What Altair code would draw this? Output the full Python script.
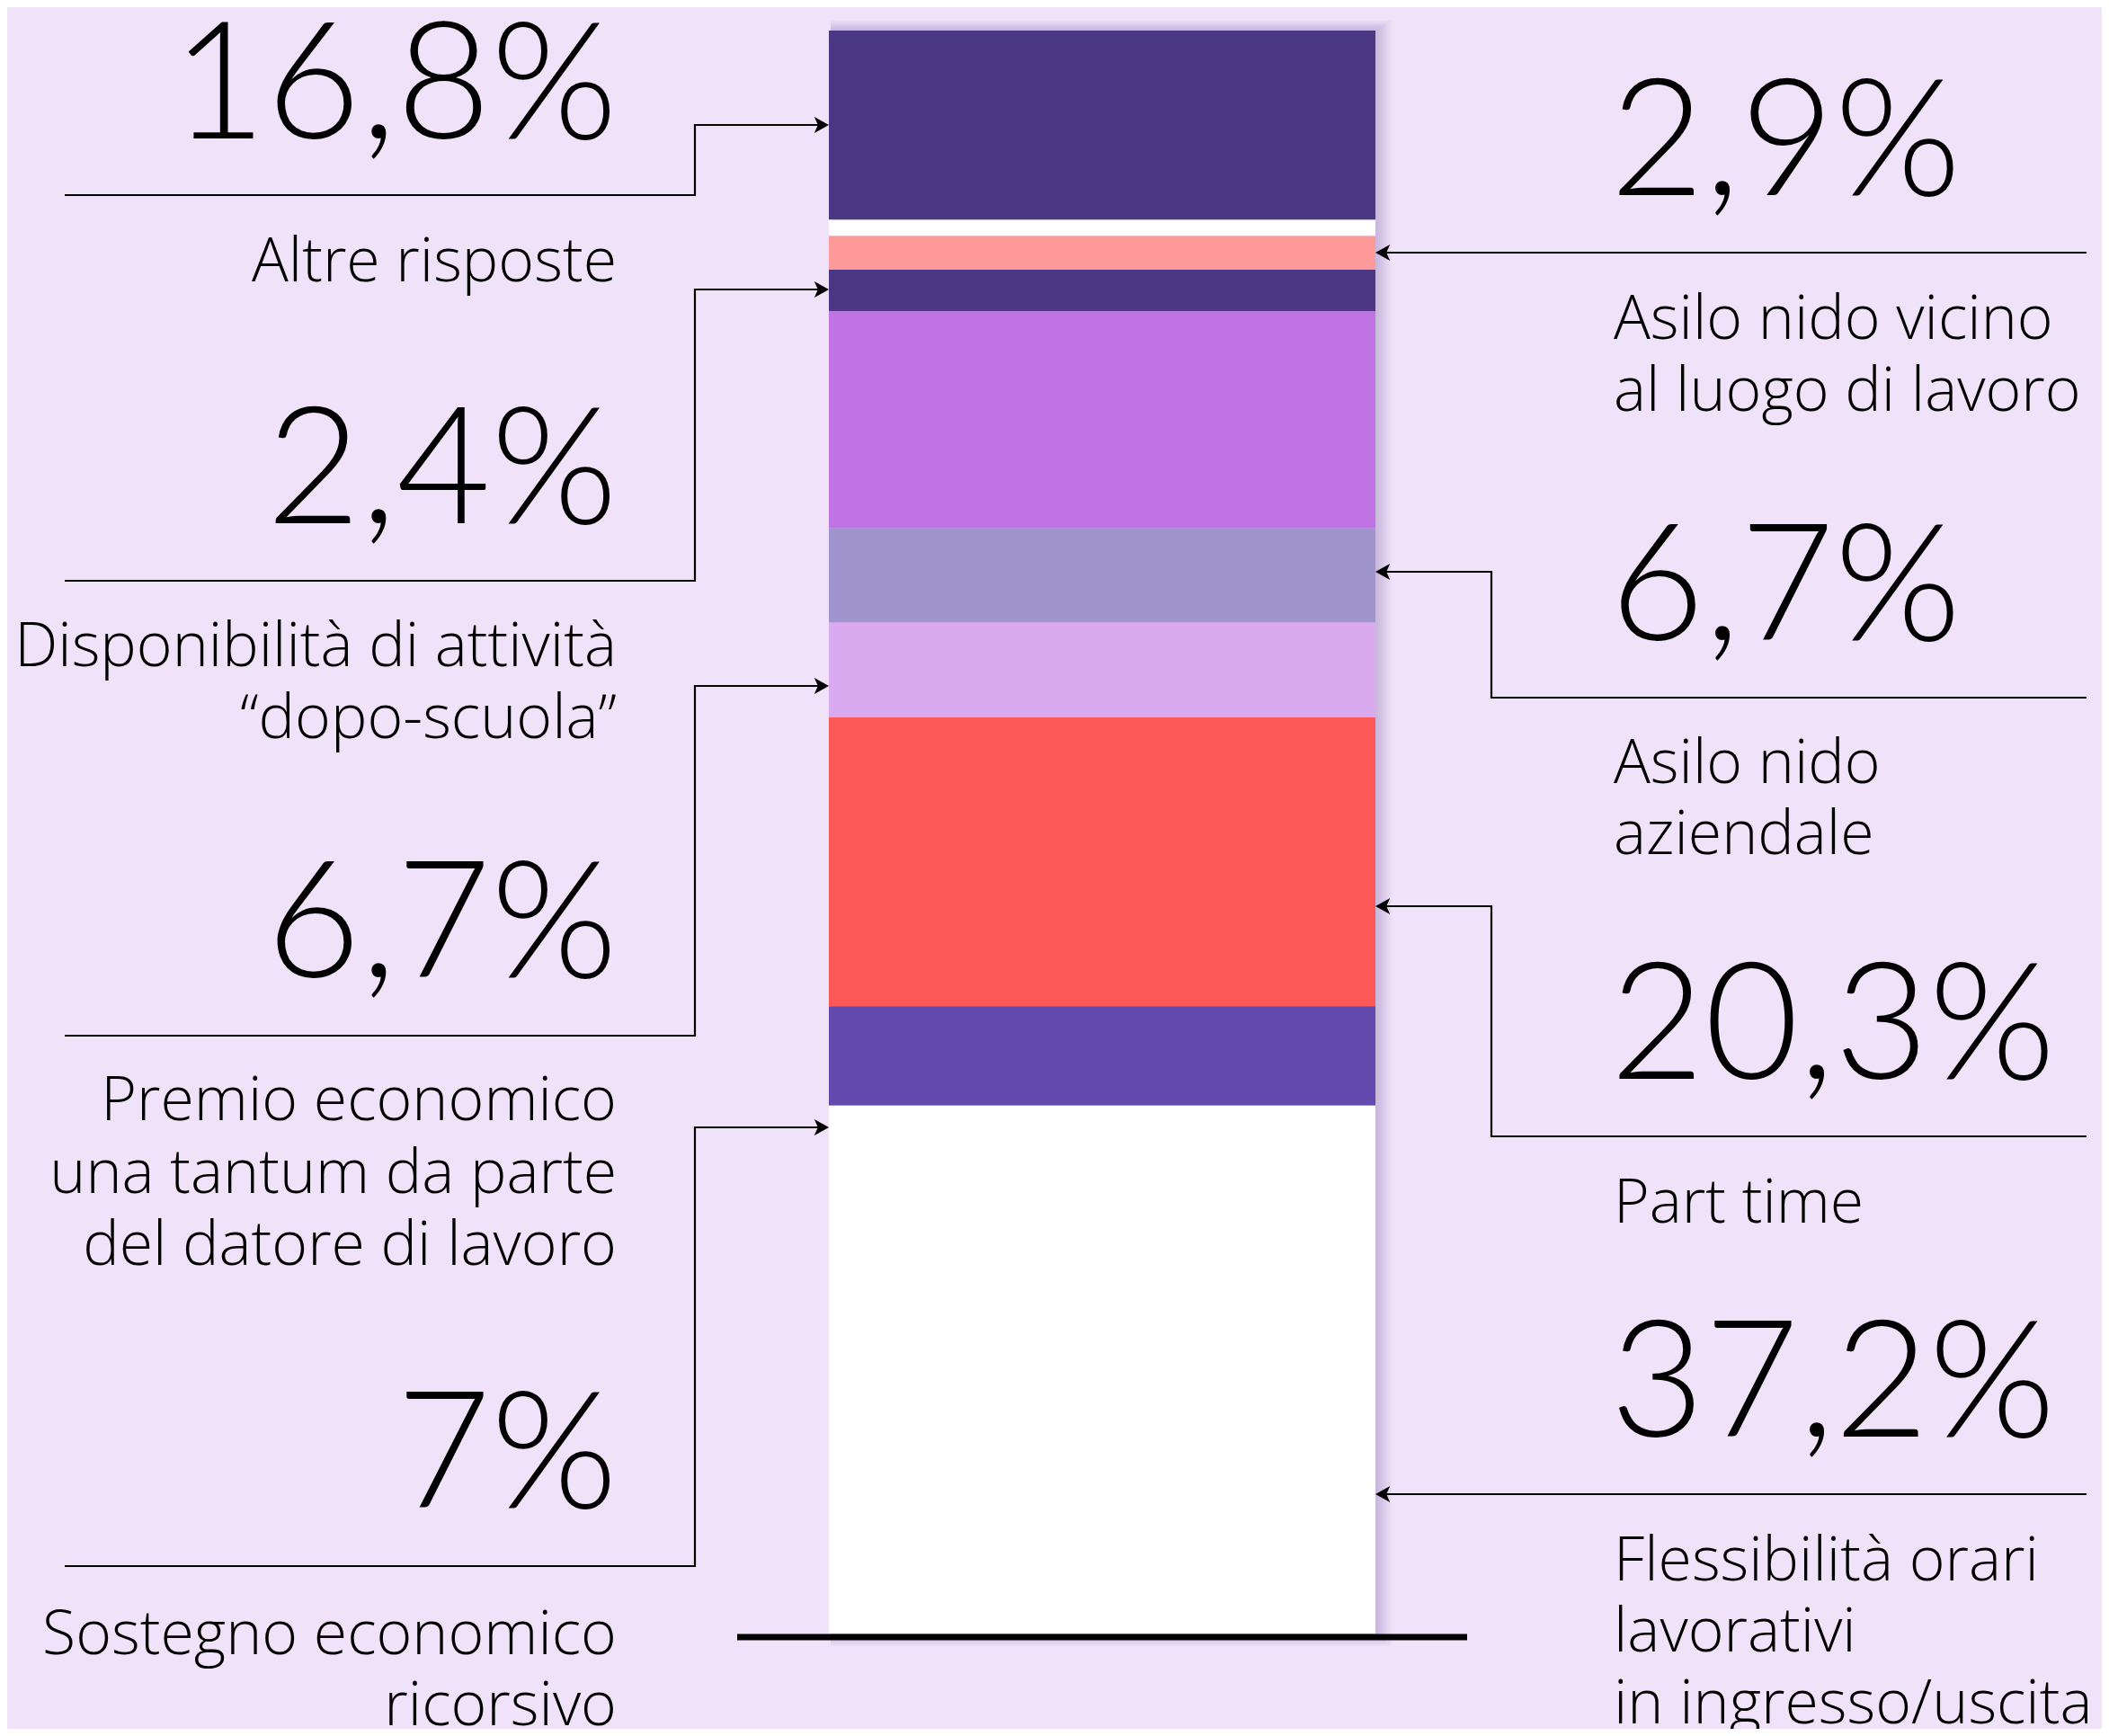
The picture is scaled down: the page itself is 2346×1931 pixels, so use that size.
import altair as alt
import pandas as pd

# ---------------- data ----------------
segment_id = ["s1", "s2", "s3", "s4", "s5", "s6", "s7", "s8", "s9", "s10"]
segment_share = [11.8, 1.0, 2.1, 2.6, 13.5, 5.9, 5.9, 18.0, 6.2, 32.9]
segment_color = ["#4a3884", "#ffffff", "#ff9a9a", "#4a3884", "#c074e4",
                 "#a094cf", "#d9aaef", "#ff5858", "#644aae", "#ffffff"]

left_values = ["16,8%", "2,4%", "6,7%", "7%"]
left_labels = [["Altre risposte"],
               ["Disponibilità di attività", "“dopo-scuola”"],
               ["Premio economico", "una tantum da parte", "del datore di lavoro"],
               ["Sostegno economico", "ricorsivo"]]
right_values = ["2,9%", "6,7%", "20,3%", "37,2%"]
right_labels = [["Asilo nido vicino", "al luogo di lavoro"],
                ["Asilo nido", "aziendale"],
                ["Part time"],
                ["Flessibilità orari", "lavorativi", "in ingresso/uscita"]]

# ---------------- layout ----------------
W, H = 2330, 1915
BG = "#f0e2f8"
VALUE_FONT = "Lato"
LABEL_FONT = "Open Sans"
BAR_X0, BAR_X1 = 914, 1522
BAR_TOP, BAR_BOT = 26, 1809

LEFT_VALUE_X, LEFT_LABEL_X = 679, 678
RIGHT_VALUE_X, RIGHT_LABEL_X = 1783, 1787
LEFT_VALUE_Y = [146, 574, 1079, 1669]
LEFT_LABEL_Y = [[305], [733, 813], [1238, 1319, 1399], [1832, 1911]]
RIGHT_VALUE_Y = [209, 704, 1192, 1590]
RIGHT_LABEL_Y = [[369, 449], [863, 942], [1352], [1750, 1829, 1909]]

LEFT_X0, LEFT_ELBOW = 64, 765
LEFT_LINES = [(209, 131), (638, 314), (1144, 755), (1734, 1246)]
RIGHT_X1, RIGHT_ELBOW = 2313, 1651
RIGHT_LINES = [(273, 273), (768, 628), (1256, 1000), (1654, 1654)]

VALUE_SIZE, LABEL_SIZE = 181, 68

total = sum(segment_share)
ppu = (BAR_BOT - BAR_TOP) / total

xs = alt.Scale(domain=[0, W], nice=False, zero=False)
ys = alt.Scale(domain=[0, H], reverse=True, nice=False, zero=False)
ybar = alt.Scale(domain=[-BAR_TOP / ppu, (H - BAR_TOP) / ppu], reverse=True,
                 nice=False, zero=False)

# ---------------- tables ----------------
starts, ends, acc = [], [], 0.0
for v in segment_share:
    starts.append(acc)
    acc += v
    ends.append(acc)
bar_df = pd.DataFrame({"id": segment_id, "share": segment_share, "color": segment_color,
                       "start": starts, "end": ends, "x0": BAR_X0, "x1": BAR_X1})

shadow_rows = []
for k in range(1, 8):
    shadow_rows.append({"x0": BAR_X0 + 2, "x1": BAR_X1 + 2.5 * k,
                        "y0": BAR_TOP - 1.6 * k, "y1": BAR_BOT + 2.0 * k})
shadow_df = pd.DataFrame(shadow_rows)

line_rows = []
for i, (yl, ya) in enumerate(LEFT_LINES):
    pts = [(LEFT_X0, yl)]
    if yl != ya:
        pts += [(LEFT_ELBOW, yl), (LEFT_ELBOW, ya)]
    pts += [(BAR_X0 - 4, ya)]
    for j, (x, y) in enumerate(pts):
        line_rows.append({"cid": f"L{i}", "seq": j, "x": x, "y": y})
for i, (yl, ya) in enumerate(RIGHT_LINES):
    pts = [(RIGHT_X1, yl)]
    if yl != ya:
        pts += [(RIGHT_ELBOW, yl), (RIGHT_ELBOW, ya)]
    pts += [(BAR_X1 + 4, ya)]
    for j, (x, y) in enumerate(pts):
        line_rows.append({"cid": f"R{i}", "seq": j, "x": x, "y": y})
line_df = pd.DataFrame(line_rows)

arrow_r = pd.DataFrame({"x": [BAR_X0 - 9] * 4, "y": [a for _, a in LEFT_LINES]})
arrow_l = pd.DataFrame({"x": [BAR_X1 + 9] * 4, "y": [a for _, a in RIGHT_LINES]})

left_val_df = pd.DataFrame({"t": left_values, "y": LEFT_VALUE_Y, "x": LEFT_VALUE_X})
right_val_df = pd.DataFrame({"t": right_values, "y": RIGHT_VALUE_Y, "x": RIGHT_VALUE_X})

rows = []
for lines, ys_ in zip(left_labels, LEFT_LABEL_Y):
    for t, y in zip(lines, ys_):
        rows.append({"t": t, "y": y, "x": LEFT_LABEL_X})
left_lab_df = pd.DataFrame(rows)
rows = []
for lines, ys_ in zip(right_labels, RIGHT_LABEL_Y):
    for t, y in zip(lines, ys_):
        rows.append({"t": t, "y": y, "x": RIGHT_LABEL_X})
right_lab_df = pd.DataFrame(rows)

base_df = pd.DataFrame({"x0": [812], "x1": [1624], "y": [1813]})

# ---------------- layers ----------------
shadow = alt.Chart(shadow_df).mark_rect(color="#4b2d7a", opacity=0.03).encode(
    x=alt.X("x0:Q", scale=xs, axis=None), x2="x1:Q",
    y=alt.Y("y0:Q", scale=ys, axis=None), y2="y1:Q")

bars = alt.Chart(bar_df).mark_rect().encode(
    x=alt.X("x0:Q", scale=xs, axis=None), x2="x1:Q",
    y=alt.Y("start:Q", scale=ybar, axis=None), y2="end:Q",
    color=alt.Color("color:N", scale=None))

baseline = alt.Chart(base_df).mark_rule(color="#000000", strokeWidth=7).encode(
    x=alt.X("x0:Q", scale=xs, axis=None), x2="x1:Q",
    y=alt.Y("y:Q", scale=ys, axis=None))

lines = alt.Chart(line_df).mark_line(color="#000000", strokeWidth=2.2,
                                      strokeJoin="miter").encode(
    x=alt.X("x:Q", scale=xs, axis=None),
    y=alt.Y("y:Q", scale=ys, axis=None),
    detail="cid:N", order="seq:Q")

head_r = alt.Chart(arrow_r).mark_point(
    shape="M1,0L-0.8,-1L-0.35,0L-0.8,1Z", size=324, filled=True,
    color="#000000", opacity=1).encode(
    x=alt.X("x:Q", scale=xs, axis=None), y=alt.Y("y:Q", scale=ys, axis=None))

head_l = alt.Chart(arrow_l).mark_point(
    shape="M-1,0L0.8,-1L0.35,0L0.8,1Z", size=324, filled=True,
    color="#000000", opacity=1).encode(
    x=alt.X("x:Q", scale=xs, axis=None), y=alt.Y("y:Q", scale=ys, axis=None))


def text_layer(df, align, font, size):
    return alt.Chart(df).mark_text(
        align=align, baseline="alphabetic", font=font, fontWeight=300,
        fontSize=size, color="#000000").encode(
        x=alt.X("x:Q", scale=xs, axis=None), y=alt.Y("y:Q", scale=ys, axis=None),
        text="t:N")


chart = alt.layer(
    shadow, bars, baseline, lines, head_r, head_l,
    text_layer(left_val_df, "right", VALUE_FONT, VALUE_SIZE),
    text_layer(right_val_df, "left", VALUE_FONT, VALUE_SIZE),
    text_layer(left_lab_df, "right", LABEL_FONT, LABEL_SIZE),
    text_layer(right_lab_df, "left", LABEL_FONT, LABEL_SIZE),
).resolve_scale(y="independent").properties(
    width=W, height=H, background=BG, padding=0,
    autosize=alt.AutoSizeParams(type="none")
).configure_view(stroke=None)

chart.save("out.html", embed_options={"renderer": "svg", "actions": False})
